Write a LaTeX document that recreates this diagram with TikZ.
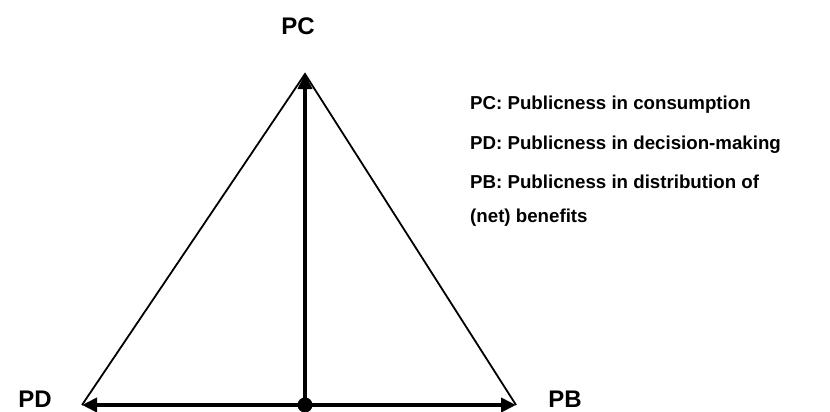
\documentclass[tikz,border=0pt]{standalone}
\usepackage{fontspec}
\setmainfont{Liberation Sans}
\usepackage{tikz}
\usetikzlibrary{positioning,arrows.meta,calc}
\definecolor{PUBline}{HTML}{000000}

\begin{document}
\begin{tikzpicture}[x=1pt, y=-1pt,
  edge/.style={draw=PUBline, line width=1.8pt},
  axis/.style={draw=PUBline, line width=3.8pt, -{Triangle[length=15pt,width=14pt]}},
  corner/.style={font=\fontsize{24}{28}\selectfont\bfseries, anchor=base, inner sep=0pt},
  legend/.style={font=\fontsize{18.7}{22}\selectfont\bfseries, anchor=base west, inner sep=0pt}]
\useasboundingbox (0,0) rectangle (830,412);
% corners of the triangle
\coordinate (top) at (305,74);
\coordinate (left) at (82,405);
\coordinate (right) at (516,405);
\coordinate (mid) at (305,405);
\draw[edge] (left) -- (top) -- (right);
\draw[axis] (mid) -- (top);
\draw[axis] (mid) -- (left);
\draw[axis] (mid) -- (right);
\node[circle, fill=PUBline, inner sep=0pt, minimum size=15pt] (dot) at (mid) {};
% corner labels
\node[corner] (pc) at (298,35) {PC};
\node[corner] (pd) at (35,407) {PD};
\node[corner] (pb) at (565,407) {PB};
% legend
\foreach \y/\txt [count=\i] in {110/PC: Publicness in consumption,149/PD: Publicness in decision-making,188/PB: Publicness in distribution of,222/(net) benefits}{
  \node[legend] (leg\i) at (470,\y) {\txt};
}
\end{tikzpicture}
\end{document}
